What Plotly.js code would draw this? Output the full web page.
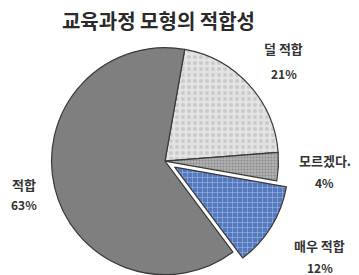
<!DOCTYPE html>
<html><head><meta charset="utf-8">
<script src="https://cdn.plot.ly/plotly-3.0.1.min.js"></script>
<style>html,body{margin:0;background:#fff;overflow:hidden}#c{width:359px;height:286px}</style>
</head><body><div id="c"></div>
<script>
const labels = ['덜 적합', '모르겠다.', '매우 적합', '적합'];
const values = [21, 4, 12, 63];

// styling (not data)
const colors = ['#e3e3e3', '#b2b2b2', '#5479bd', '#7f7f7f'];
const patternShapes = ['.', '.', '+', ''];
const patternFg = ['#cacaca', '#8a8a8a', '#97b2e2', '#7f7f7f'];
const patternSize = [6, 3, 5, 4];
const patternSolidity = [0.35, 0.35, 0.25, 0.3];
const pulls = [0, 0, 0.1, 0];
const labelDist = [1.37, 1.41, 1.50, 1.275];
const labelAngleShift = [2, 1, 0, 0];
const lineGap = [12.5, 11, 11, 10];

const W = 359, H = 286;
const rotation = 10;
const dom = {x: [0.1117, 0.8075], y: [0, 0.873]};

const total = values.reduce((a, b) => a + b, 0);
const maxPull = Math.max(...pulls);
const cx = (dom.x[0] + dom.x[1]) / 2 * W;
const cy = H - (dom.y[0] + dom.y[1]) / 2 * H;
const r = Math.min((dom.x[1] - dom.x[0]) * W, (dom.y[1] - dom.y[0]) * H) / 2 / (1 + maxPull);
const font = {family: 'Noto Sans CJK KR', color: '#333', weight: 'bold'};
const annotations = [];
let cum = 0;
values.forEach((v, i) => {
  const mid = rotation + (cum + v / 2) / total * 360 + labelAngleShift[i];
  cum += v;
  const a = mid * Math.PI / 180;
  const d = r * (labelDist[i] + pulls[i]);
  const px = cx + d * Math.sin(a);
  const py = cy - d * Math.cos(a);
  annotations.push({
    x: px / W, y: 1 - (py - lineGap[i]) / H, xref: 'paper', yref: 'paper',
    xanchor: 'center', yanchor: 'middle', showarrow: false,
    text: labels[i], font: Object.assign({size: 13}, font)
  });
  annotations.push({
    x: px / W, y: 1 - (py + lineGap[i]) / H, xref: 'paper', yref: 'paper',
    xanchor: 'center', yanchor: 'middle', showarrow: false,
    text: v + '%', font: Object.assign({size: 12}, font)
  });
});

Plotly.newPlot('c', [{
  type: 'pie',
  labels: labels,
  values: values,
  sort: false,
  direction: 'clockwise',
  rotation: rotation,
  pull: pulls,
  marker: {
    colors: colors,
    line: {color: '#3a3a3a', width: 1.2},
    pattern: {shape: patternShapes, fgcolor: patternFg, bgcolor: colors, size: patternSize, solidity: patternSolidity}
  },
  textinfo: 'none',
  hoverinfo: 'none',
  domain: dom,
  showlegend: false
}], {
  width: W, height: H,
  margin: {l: 0, r: 0, t: 0, b: 0},
  paper_bgcolor: '#fff',
  annotations: annotations,
  title: {text: '교육과정 모형의 적합성', x: 0.4415, xanchor: 'center', y: 1 - 21.5 / H, yanchor: 'middle',
          font: {family: 'Noto Sans CJK KR', size: 20, color: '#2a2a2a', weight: 'bold'}}
}, {staticPlot: true});
</script></body></html>
